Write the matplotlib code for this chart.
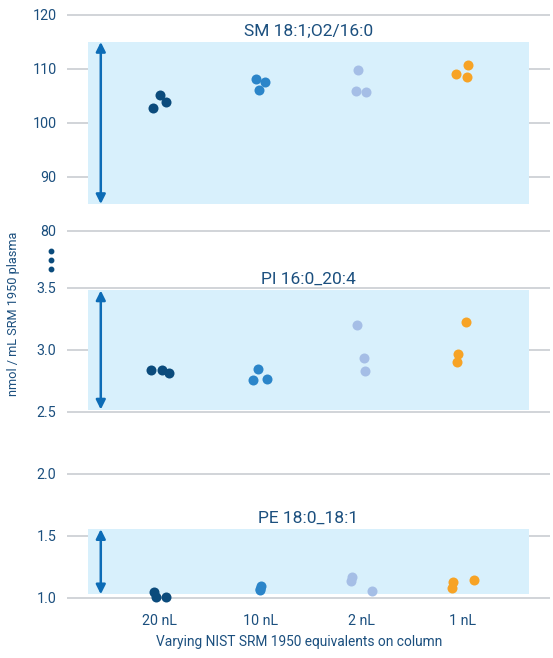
import numpy as np
import matplotlib
matplotlib.use("Agg")
import matplotlib.pyplot as plt

plt.rcParams['font.family'] = ['Roboto', 'DejaVu Sans']

# ---------------- data ----------------
categories = ["20 nL", "10 nL", "2 nL", "1 nL"]
cat_colors = ["#0b4b7c", "#2b85c9", "#a5bee6", "#f7a325"]

panel_titles = ["SM 18:1;O2/16:0", "PI 16:0_20:4", "PE 18:0_18:1"]

# values per panel, per category (3 replicates)
sm_values = [[102.7, 105.2, 103.8],
             [108.2, 107.6, 106.2],
             [109.9, 106.0, 105.7],
             [109.0, 110.8, 108.6]]
pi_values = [[2.836, 2.839, 2.812],
             [2.847, 2.758, 2.769],
             [3.20, 2.938, 2.833],
             [3.226, 2.968, 2.906]]
pe_values = [[1.046, 1.005, 1.005],
             [1.100, 1.072, 1.066],
             [1.172, 1.140, 1.054],
             [1.126, 1.078, 1.143]]
# horizontal jitter of the replicates
sm_jitter = [[-0.063, 0.0, 0.063], [-0.05, 0.04, -0.017], [-0.037, -0.05, 0.046], [-0.067, 0.058, 0.048]]
pi_jitter = [[-0.083, 0.02, 0.09], [-0.03, -0.077, 0.066], [-0.044, 0.023, 0.04], [0.038, -0.045, -0.052]]
pe_jitter = [[-0.06, -0.035, 0.06], [0.005, -0.008, -0.003], [-0.09, -0.1, 0.1], [-0.09, -0.1, 0.12]]

# highlighted range band for each panel (low, high)
band_ranges = [(85.0, 115.0), (2.52, 3.48), (1.03, 1.555)]

y_ticks = [1.0, 1.5, 2.0, 2.5, 3.0, 3.5, 80, 90, 100, 110, 120]
y_tick_labels = ["1.0", "1.5", "2.0", "2.5", "3.0", "3.5", "80", "90", "100", "110", "120"]

# ---------------- broken-axis scale ----------------
v_knots = [-100.0, 3.5, 80.0, 1000.0]
u_knots = [-101 * 124.0, 310.0, 367.0, 367.0 + 920 * 5.4]


def fwd(v):
    return np.interp(v, v_knots, u_knots)


def inv(u):
    return np.interp(u, u_knots, v_knots)


text_col = "#1b4f7e"
band_col = "#d8f0fc"
arrow_col = "#0d6cb6"
grid_col = "#c9cdd2"

fig = plt.figure(figsize=(5.53, 6.58), dpi=100)
ax = fig.add_axes([67 / 553, 1 - 601.7 / 658, (550 - 67) / 553, (601.7 - 13.9) / 658])
ax.set_yscale('function', functions=(fwd, inv))
ax.set_ylim(inv(-3.7), inv(584.1))
ax.set_xlim(-0.92, 3.87)

ax.set_yticks(y_ticks)
ax.set_yticklabels(y_tick_labels)
ax.yaxis.set_minor_locator(matplotlib.ticker.NullLocator())
ax.set_xticks(range(len(categories)))
ax.set_xticklabels(categories)
ax.tick_params(axis='both', length=0, colors=text_col, labelsize=10.3)
ax.tick_params(axis='y', pad=7.5)
ax.tick_params(axis='x', pad=8.5)
ax.grid(axis='y', color=grid_col, lw=1.2, zorder=0)
ax.set_axisbelow(True)
for s in ax.spines.values():
    s.set_visible(False)

band_x0, band_x1 = -0.715, 3.66
arrow_x = -0.585
all_vals = [sm_values, pi_values, pe_values]
all_jit = [sm_jitter, pi_jitter, pe_jitter]
for p in range(3):
    lo, hi = band_ranges[p]
    ax.fill_between([band_x0, band_x1], lo, hi, color=band_col, lw=0, zorder=1)
    ax.annotate('', xy=(arrow_x, hi), xytext=(arrow_x, lo),
                arrowprops=dict(arrowstyle='<|-|>', color=arrow_col, lw=1.8,
                                mutation_scale=14, shrinkA=0, shrinkB=0), zorder=3)
    ax.annotate(panel_titles[p], xy=((band_x0 + band_x1) / 2, hi), xytext=(0, 8),
                textcoords='offset points', ha='center', va='center',
                fontsize=12.5, color=text_col, zorder=4)
    for c in range(len(categories)):
        xs = [c + j for j in all_jit[p][c]]
        ax.scatter(xs, all_vals[p][c], s=52, color=cat_colors[c], lw=0, zorder=5, clip_on=False)

# break marker dots
ax.plot([-1.082] * 3, [inv(347), inv(338), inv(329)], 'o', color="#0b4b7c", ms=3.2,
        clip_on=False, zorder=5)

ax.set_ylabel("nmol / mL SRM 1950 plasma", color=text_col, fontsize=9.2)
ax.yaxis.set_label_coords(-0.098, 0.49)
ax.set_xlabel("Varying NIST SRM 1950 equivalents on column", color=text_col, fontsize=9.9)
ax.xaxis.set_label_coords(0.481, -0.056)

fig.savefig("out.png", dpi=100)
